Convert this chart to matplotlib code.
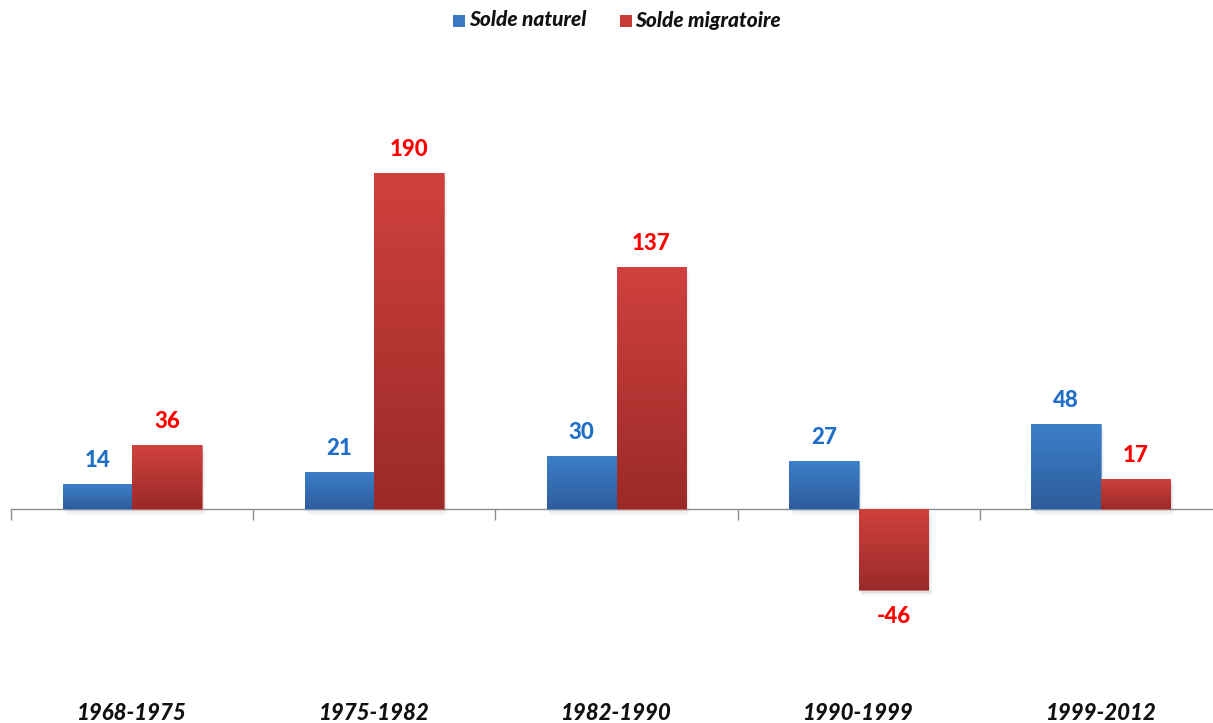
import numpy as np
import matplotlib.pyplot as plt
import matplotlib.transforms as mtransforms
from matplotlib.colors import LinearSegmentedColormap
from matplotlib.patches import Rectangle

periods = ['1968-1975', '1975-1982', '1982-1990', '1990-1999', '1999-2012']
solde_naturel = [14, 21, 30, 27, 48]
solde_migratoire = [36, 190, 137, -46, 17]

plt.rcParams['font.family'] = ['Lato', 'DejaVu Sans']

fig = plt.figure(figsize=(12.13, 7.23), dpi=100)
ax = fig.add_axes([11 / 1213, 37 / 723, 1211 / 1213, 619 / 723])
ax.set_xlim(-0.5, 4.5)
ax.set_ylim(-100, 250)

x = np.arange(len(periods))
w = 0.287

blue_cmap = LinearSegmentedColormap.from_list('b', ['#2d5d9b', '#3d7fcb'])
red_cmap = LinearSegmentedColormap.from_list('r', ['#9a2a28', '#d0413e'])
grad = np.linspace(0, 1, 256).reshape(-1, 1)


def gradient_bars(xpos, vals, cmap, edge):
    bars = ax.bar(xpos, vals, w, color='none', edgecolor='none', zorder=3)
    for b, v in zip(bars, vals):
        x0, y0 = b.get_x(), b.get_y()
        bw, bh = b.get_width(), b.get_height()
        # soft drop shadow
        for k, a in enumerate([0.05, 0.04, 0.03]):
            off = 0.006 + k * 0.004
            ax.add_patch(Rectangle((x0 + off, y0 - 1.2 - k), bw, bh, facecolor='black',
                                   alpha=a, edgecolor='none', zorder=2))
        ytop, ybot = max(y0, y0 + bh), min(y0, y0 + bh)
        im = ax.imshow(grad, cmap=cmap, aspect='auto', origin='lower',
                       extent=[x0, x0 + bw, ybot, ytop], zorder=3)
        im.set_clip_path(b)
        b.set_edgecolor(edge)
        b.set_linewidth(0.6)
    return bars


gradient_bars(x - w / 2, solde_naturel, blue_cmap, '#5b8fd0')
gradient_bars(x + w / 2, solde_migratoire, red_cmap, '#c85a58')

for xi, v in zip(x - w / 2, solde_naturel):
    ax.annotate(str(v), (xi, v), xytext=(0, 17 if v >= 0 else -19), textcoords='offset points',
                ha='center', va='center', color='#1f6fc6', fontsize=16, fontweight='black')
for xi, v in zip(x + w / 2, solde_migratoire):
    ax.annotate(str(v), (xi, v), xytext=(0, 17 if v >= 0 else -19), textcoords='offset points',
                ha='center', va='center', color='#ff0000', fontsize=16, fontweight='black')

# horizontal axis through zero with ticks between categories
for s in ['top', 'right', 'left']:
    ax.spines[s].set_visible(False)
ax.spines['bottom'].set_position(('data', 0))
ax.spines['bottom'].set_color('#8c8c8c')
ax.spines['bottom'].set_linewidth(1.0)
ax.set_xticks(np.arange(-0.5, 5.0, 1.0))
ax.set_xticklabels([])
ax.tick_params(axis='x', direction='out', length=8, color='#8c8c8c', width=1.0)
ax.set_yticks([])

trans = mtransforms.blended_transform_factory(ax.transData, ax.transAxes)
for xi, p in zip(x, periods):
    ax.text(xi, -0.045, p, transform=trans, ha='center', va='center', fontsize=16,
            fontweight='black', fontstyle='italic', color='#111111')

# legend
fig.patches.append(Rectangle((453 / 1213, 1 - 27 / 723), 12 / 1213, 12 / 723,
                             transform=fig.transFigure, facecolor='#3a78c2', edgecolor='none'))
fig.text(469 / 1213, 1 - 20 / 723, 'Solde naturel', ha='left', va='center', fontsize=15,
         fontweight='black', fontstyle='italic', color='#111111')
fig.patches.append(Rectangle((620 / 1213, 1 - 27 / 723), 12 / 1213, 12 / 723,
                             transform=fig.transFigure, facecolor='#c83a37', edgecolor='none'))
fig.text(635 / 1213, 1 - 20 / 723, 'Solde migratoire', ha='left', va='center', fontsize=15,
         fontweight='black', fontstyle='italic', color='#111111')

fig.savefig('out.png', dpi=100)
